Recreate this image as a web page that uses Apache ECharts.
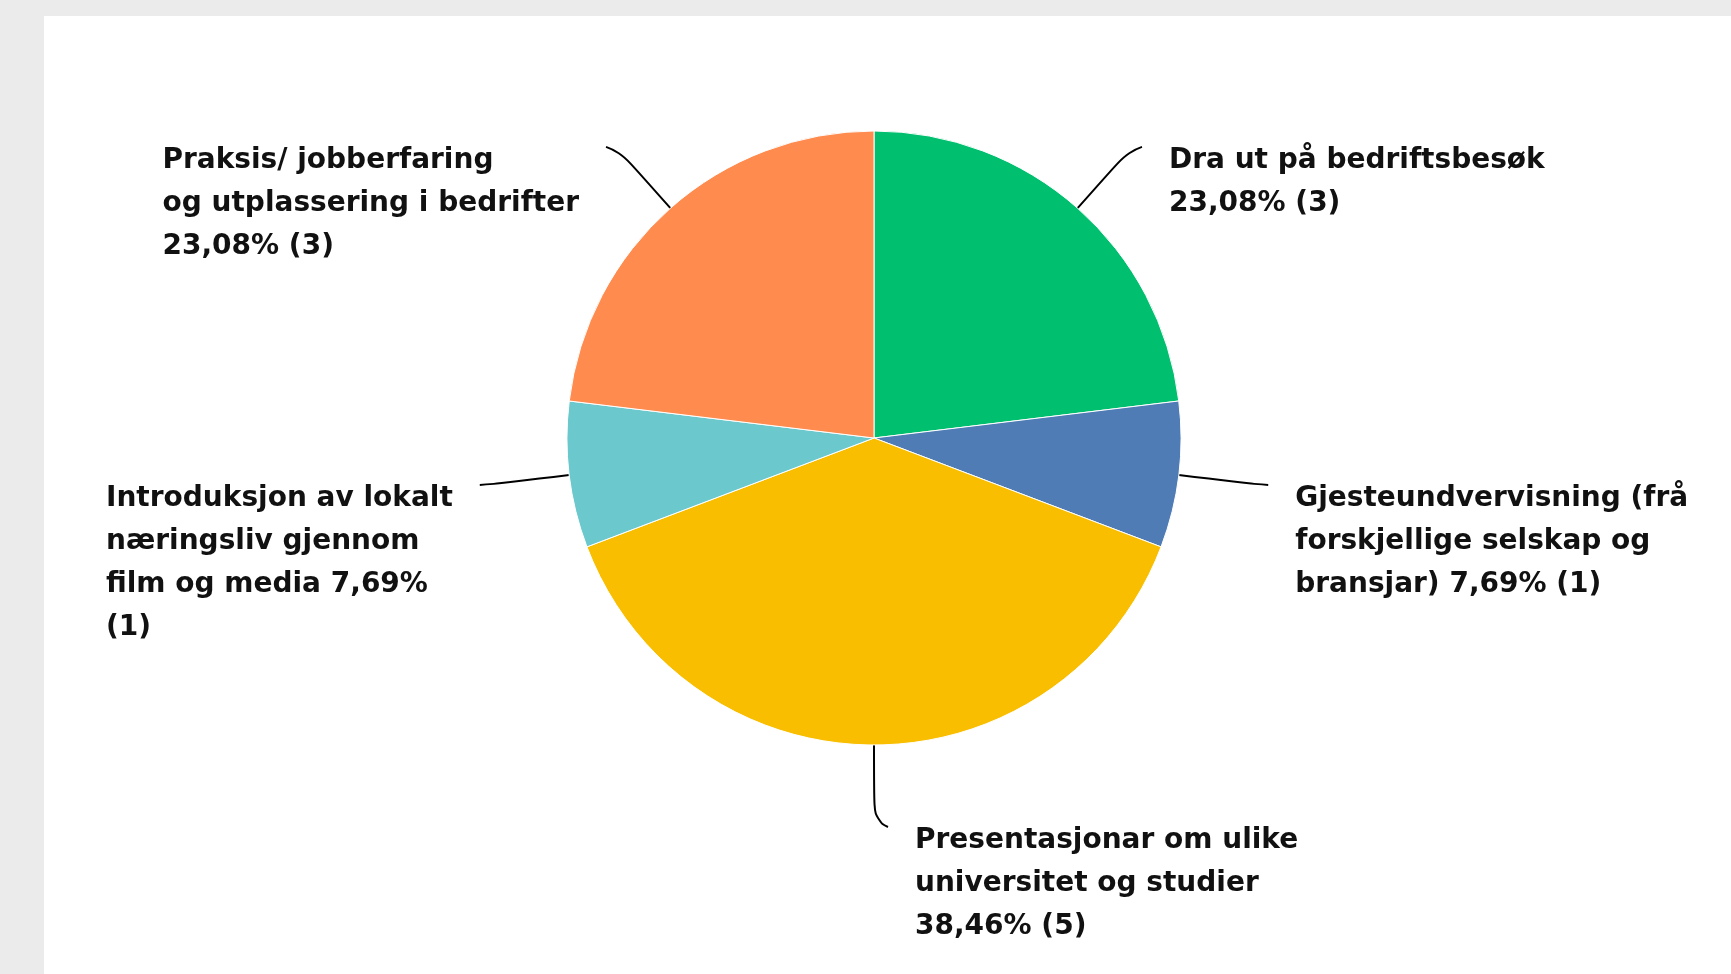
<!DOCTYPE html>
<html>
<head>
<meta charset="utf-8">
<title>Pie</title>
<script src="https://cdn.jsdelivr.net/npm/echarts@6/dist/echarts.min.js"></script>
<style>
  html, body { margin: 0; padding: 0; background: #ebebeb; }
  #chart { width: 1731px; height: 974px; }
</style>
</head>
<body>
<div id="chart"></div>
<script>
// answers, in the order they go round the pie (clockwise from 12 o'clock)
const categories = [
  'Dra ut på bedriftsbesøk',
  'Gjesteundvervisning (frå\nforskjellige selskap og\nbransjar)',
  'Presentasjonar om ulike\nuniversitet og studier',
  'Introduksjon av lokalt\nnæringsliv gjennom\nfilm og media',
  'Praksis/ jobberfaring\nog utplassering i bedrifter'
]
const counts = [3, 1, 5, 1, 3]
// where the label wraps before the percentage / before the count
const pctBreak = ['\n', ' ', '\n', ' ', '\n']
const countBreak = [' ', ' ', ' ', '\n', ' ']
const colors = ['#00bf6f', '#507cb6', '#f9be00', '#6bc8cd', '#ff8b4f']

const chart = echarts.init(document.getElementById('chart'))

chart.setOption({
  backgroundColor: '#ebebeb',
  animation: false,
  graphic: [{
    type: 'rect',
    shape: { x: 44, y: 16, width: 1687, height: 958 },
    style: { fill: '#ffffff' },
    silent: true
  }],
  series: [{
    type: 'pie',
    center: [874, 438],
    radius: 307,
    startAngle: 90,
    clockwise: true,
    avoidLabelOverlap: false,
    itemStyle: { borderColor: '#ffffff', borderWidth: 1 },
    emphasis: { scale: false },
    label: {
      show: true,
      position: 'outside',
      color: '#111',
      fontFamily: 'DejaVu Sans',
      fontWeight: 'bold',
      fontSize: 28,
      lineHeight: 43,
      formatter: function (p) {
        const i = p.dataIndex
        const pct = p.percent.toFixed(2).replace('.', ',') + '%'
        return p.name + pctBreak[i] + pct + countBreak[i] + '(' + p.value + ')'
      }
    },
    labelLine: {
      show: true,
      length: 20,
      length2: 10,
      smooth: 0.6,
      lineStyle: { color: '#000', width: 2 }
    },
    // leader runs out radially, then hooks softly toward the text
    labelLayout: function (params) {
      const pts = params.labelLinePoints
      if (!pts) return {}
      const p0 = pts[0]
      let dx = pts[1][0] - p0[0]
      let dy = pts[1][1] - p0[1]
      const len = Math.hypot(dx, dy) || 1
      dx /= len
      dy /= len
      const side = pts[2][0] < pts[1][0] ? -1 : 1
      const a = [p0[0] + dx * 76, p0[1] + dy * 76]
      const b = [a[0] + side * 14, a[1] + dy * 6]
      const x = side > 0 ? b[0] + 27 : b[0] - 27 - params.labelRect.width
      return {
        x: x,
        y: b[1] - 8,
        align: 'left',
        verticalAlign: 'top',
        labelLinePoints: [p0, a, b]
      }
    },
    data: categories.map((name, i) => ({
      name: name,
      value: counts[i],
      itemStyle: { color: colors[i] }
    }))
  }]
})
</script>
</body>
</html>
